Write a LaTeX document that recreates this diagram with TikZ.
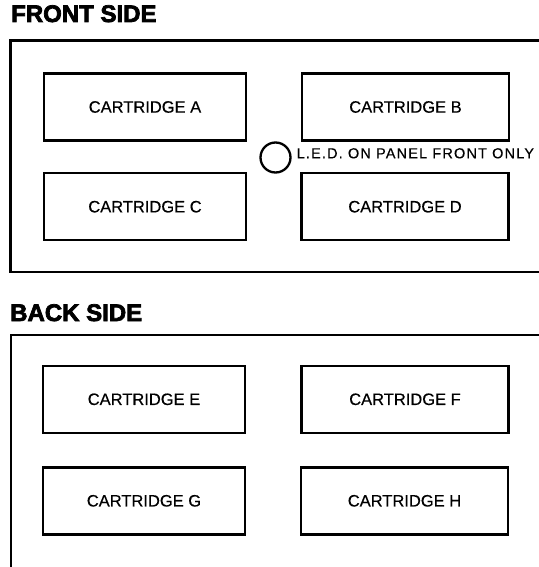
\documentclass[tikz,border=0pt]{standalone}
\usepackage{fontspec}
\setmainfont{Liberation Sans}
\newfontfamily\headfont{Liberation Sans}[BoldFeatures={FakeBold=3}]
\newfontfamily\cartfont{Liberation Sans}[FakeBold=0.4]
\newfontfamily\ledfont{Liberation Sans}[LetterSpace=8,FakeBold=0.4]
\begin{document}
\begin{tikzpicture}[x=1pt,y=-1pt,
  frame/.style={line width=2.5pt},
  cartbox/.style={draw,line width=2.5pt,inner sep=0pt,minimum height=67pt,
    font=\cartfont\fontsize{16.5}{19}\selectfont},
  leftcol/.style={cartbox,minimum width=202pt},
  rightcol/.style={cartbox,minimum width=207pt},
  heading/.style={anchor=base west,inner sep=0pt,font=\headfont\bfseries\fontsize{24}{28}\selectfont},
  ledlabel/.style={anchor=base west,inner sep=0pt,font=\ledfont\fontsize{14.5}{17}\selectfont},
  ledstyle/.style={draw,circle,line width=2.3pt,minimum size=30pt,inner sep=0pt}]
\fill[white] (0,0) rectangle (538,567);
\useasboundingbox (0,0) rectangle (538,567);
% headings
\node[heading] (fronthead) at (11,22) {FRONT SIDE};
\node[heading] (backhead) at (10,321) {BACK SIDE};
% panel frames
\draw[frame] (545,40.5) -- (10.5,40.5) -- (10.5,272) -- (545,272);
\draw[frame] (545,335) -- (11,335) -- (11,575);
% front cartridges
\node[leftcol]  (A) at (145,107)   {CARTRIDGE A};
\node[rightcol] (B) at (405.5,107) {CARTRIDGE B};
\node[leftcol]  (C) at (145,206.7) {CARTRIDGE C};
\node[rightcol] (D) at (405,206.7) {CARTRIDGE D};
% LED
\node[ledstyle] (led) at (275.5,157.5) {};
\node[ledlabel] (ledtext) at (296.5,158.3) {L.E.D. ON PANEL FRONT ONLY};
% back cartridges
\node[leftcol]  (E) at (144,399.3)   {CARTRIDGE E};
\node[rightcol] (F) at (405,399.3)   {CARTRIDGE F};
\node[leftcol]  (G) at (144,500.8)   {CARTRIDGE G};
\node[rightcol] (H) at (404.5,500.8) {CARTRIDGE H};
\end{tikzpicture}
\end{document}
